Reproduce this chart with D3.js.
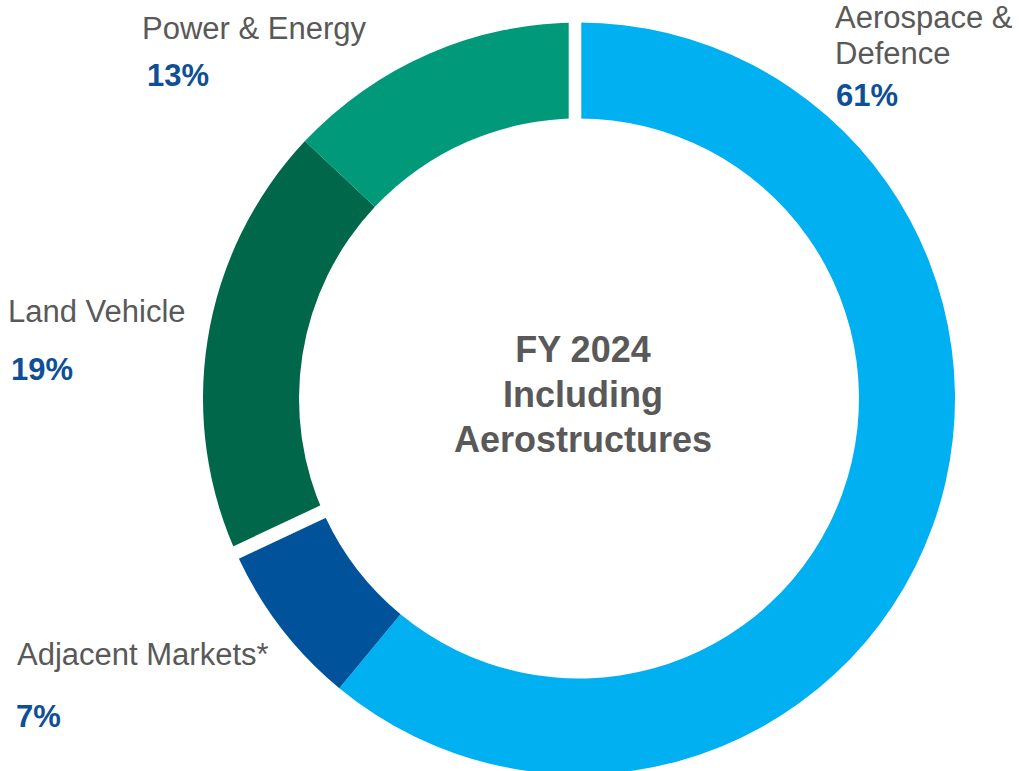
<!DOCTYPE html>
<html lang="en">
<head>
    <meta charset="UTF-8">
    <title>FY 2024 Including Aerostructures</title>
    <script src="https://d3js.org/d3.v7.min.js"></script>
    <style>
        body { margin: 0; background: #fff; }
        svg { display: block; font-family: "Liberation Sans", Arial, sans-serif; }
    </style>
</head>
<body>
<svg id="chart"></svg>
<script>
    const width = 1019;
    const height = 771;

    // data
    const segments = ["Aerospace & Defence", "Adjacent Markets*", "Land Vehicle", "Power & Energy"];
    const shares = [61, 7, 19, 13];
    const labelLines = [["Aerospace &", "Defence"], ["Adjacent Markets*"], ["Land Vehicle"], ["Power & Energy"]];
    const centerTitle = ["FY 2024", "Including", "Aerostructures"];

    const colors = ["#00b0f0", "#00529b", "#00674b", "#00997a"];

    const cx = 579, cy = 398.5;
    const outerR = 376, innerR = 280;

    // white gaps between the blue and green halves (offsets across the slice edge, px)
    const gaps = [
        {arc: 0, from: -10.3, to: 2.3},
        {arc: 2, from: 0, to: 13.4}
    ];

    // label anchor spots (x, first baseline, pct baseline)
    const labelPos = [
        {x: 835, y: 28, py: 106, px: 836},
        {x: 17, y: 665, py: 727, px: 16},
        {x: 8, y: 322, py: 380, px: 11},
        {x: 142, y: 39, py: 86, px: 147}
    ];

    const svg = d3.select("#chart")
        .attr("width", width)
        .attr("height", height)
        .attr("viewBox", [0, 0, width, height]);

    const pie = d3.pie().sort(null).value(d => d)
        .startAngle(0).endAngle(2 * Math.PI);
    const arcs = pie(shares);

    const arc = d3.arc().innerRadius(innerR).outerRadius(outerR);

    const ring = svg.append("g")
        .attr("transform", `translate(${cx},${cy})`);

    ring.selectAll("path")
        .data(arcs)
        .join("path")
        .attr("fill", (d, i) => colors[i])
        .attr("d", arc);

    // cut the gaps as white bands along the slice edges
    ring.selectAll("rect.gap")
        .data(gaps)
        .join("rect")
        .attr("class", "gap")
        .attr("transform", d => `rotate(${arcs[d.arc].startAngle * 180 / Math.PI})`)
        .attr("x", d => d.from)
        .attr("width", d => d.to - d.from)
        .attr("y", -outerR - 6)
        .attr("height", outerR - innerR + 12)
        .attr("fill", "#fff");

    // center text
    svg.append("g")
        .selectAll("text")
        .data(centerTitle)
        .join("text")
        .attr("x", 583)
        .attr("y", (d, i) => 362 + i * 45)
        .attr("text-anchor", "middle")
        .attr("font-size", 36)
        .attr("font-weight", "bold")
        .attr("fill", "#595959")
        .text(d => d);

    // category labels
    const lab = svg.append("g")
        .selectAll("g")
        .data(segments)
        .join("g");

    lab.each(function (d, i) {
        const g = d3.select(this);
        const p = labelPos[i];
        labelLines[i].forEach((t, j) => {
            g.append("text")
                .attr("x", p.x)
                .attr("y", p.y + j * 36)
                .attr("font-size", 31)
                .attr("fill", "#595959")
                .text(t);
        });
        g.append("text")
            .attr("x", p.px)
            .attr("y", p.py)
            .attr("font-size", 31)
            .attr("font-weight", "bold")
            .attr("fill", "#0e4f96")
            .text(shares[i] + "%");
    });
</script>
</body>
</html>
